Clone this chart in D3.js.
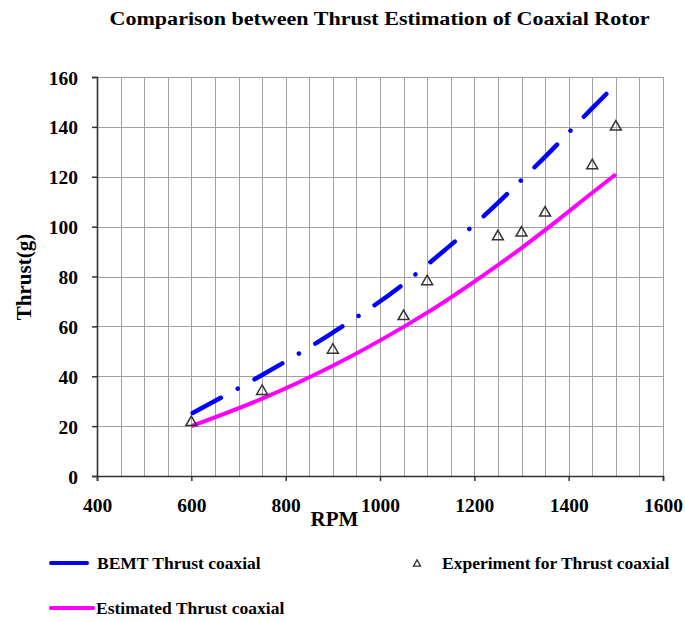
<!DOCTYPE html>
<html>
<head>
<meta charset="utf-8">
<script src="https://cdn.jsdelivr.net/npm/d3@7/dist/d3.min.js"></script>
<style>
  body { margin: 0; background: #fff; }
  svg text { font-family: "Liberation Serif", Tinos, "Times New Roman", Times, "DejaVu Serif", serif; font-weight: bold; fill: #000; }
</style>
</head>
<body>
<svg id="chart" width="685" height="621"></svg>
<script>
// data
const rpm        = [600, 750, 900, 1050, 1100, 1250, 1300, 1350, 1450, 1500];
const bemt       = [25, 40.5, 57.5, 77, 84.7, 109.5, 118.7, 128, 147.5, 157];
const estimated  = [20, 31, 44.2, 59.8, 65.5, 84.6, 91.4, 98.6, 113.6, 121];
const experiment = [21.5, 34, 50.5, 64, 78, 96, 97.5, 105.5, 124.5, 140];
const xTicks     = [400, 600, 800, 1000, 1200, 1400, 1600];
const yTicks     = [0, 20, 40, 60, 80, 100, 120, 140, 160];

const svg = d3.select('#chart');

const x = d3.scaleLinear().domain([400, 1600]).range([97, 663]);
const y = d3.scaleLinear().domain([0, 160]).range([476, 77]);

// grid
const grid = svg.append('g').attr('stroke', '#a0a0a0').attr('stroke-width', 1);
grid.selectAll('line.v')
  .data(d3.range(450, 1601, 50))
  .join('line')
  .attr('x1', d => Math.round(x(d)) + 0.5).attr('x2', d => Math.round(x(d)) + 0.5)
  .attr('y1', y(0)).attr('y2', y(160));
grid.selectAll('line.h')
  .data(yTicks.slice(1))
  .join('line')
  .attr('y1', d => Math.round(y(d)) + 0.5).attr('y2', d => Math.round(y(d)) + 0.5)
  .attr('x1', x(400)).attr('x2', x(1600));

// axes
const xAxis = svg.append('g')
  .attr('transform', `translate(0,${y(0)})`)
  .call(d3.axisBottom(x).tickValues(xTicks).tickSize(5).tickPadding(17).tickFormat(d3.format('d')));
const yAxis = svg.append('g')
  .attr('transform', `translate(${x(400)},0)`)
  .call(d3.axisLeft(y).tickValues(yTicks).tickSize(5).tickPadding(14));
[xAxis, yAxis].forEach(a => {
  a.attr('font-family', null).attr('font-size', null);
  a.selectAll('path.domain').attr('stroke', '#333').attr('stroke-width', 1.6);
  a.selectAll('line').attr('stroke', '#333').attr('stroke-width', 1.5);
  a.selectAll('text').style('font-size', '19.5px');
});
yAxis.selectAll('text').attr('dy', '0.36em');

// lines
const rows = rpm.map((r, i) => ({rpm: r, bemt: bemt[i], est: estimated[i], exp: experiment[i]}));

const bemtLine = d3.line().x(d => x(d.rpm)).y(d => y(d.bemt)).curve(d3.curveMonotoneX);
const estLine  = d3.line().x(d => x(d.rpm)).y(d => y(d.est)).curve(d3.curveMonotoneX);

svg.append('path')
  .datum(rows)
  .attr('d', estLine)
  .attr('fill', 'none')
  .attr('stroke', '#ff00ff')
  .attr('stroke-width', 4);

svg.append('path')
  .datum(rows)
  .attr('d', bemtLine)
  .attr('fill', 'none')
  .attr('stroke', '#0000ff')
  .attr('stroke-width', 4.5)
  .attr('stroke-linecap', 'round')
  .attr('stroke-dasharray', '32,19.25,0.01,19.25')
  .attr('stroke-dashoffset', -1.5);

// experiment markers
const tri = d3.symbol().type(d3.symbolTriangle).size(52);
svg.append('g')
  .selectAll('path')
  .data(rows)
  .join('path')
  .attr('d', tri)
  .attr('transform', d => `translate(${x(d.rpm)},${y(d.exp)})`)
  .attr('fill', 'none')
  .attr('stroke', '#333')
  .attr('stroke-width', 1.5);

// title and axis labels
svg.append('text')
  .attr('x', 379.5).attr('y', 25)
  .attr('text-anchor', 'middle')
  .style('font-size', '18px')
  .attr('textLength', 540)
  .attr('lengthAdjust', 'spacingAndGlyphs')
  .text('Comparison between Thrust Estimation of Coaxial Rotor');

svg.append('text')
  .attr('transform', 'translate(31,277) rotate(-90)')
  .attr('text-anchor', 'middle')
  .style('font-size', '21px')
  .text('Thrust(g)');

svg.append('text')
  .attr('x', 334.5).attr('y', 526)
  .attr('text-anchor', 'middle')
  .style('font-size', '21px')
  .text('RPM');

// legend
const legend = [
  {label: 'BEMT Thrust coaxial', color: '#0000ff', x: 51, y: 563, len: 36, tx: 97},
  {label: 'Estimated Thrust coaxial', color: '#ff00ff', x: 51, y: 608, len: 42, tx: 96},
];
legend.forEach(l => {
  svg.append('line')
    .attr('x1', l.x).attr('x2', l.x + l.len)
    .attr('y1', l.y).attr('y2', l.y)
    .attr('stroke', l.color).attr('stroke-width', 4).attr('stroke-linecap', 'round');
  svg.append('text')
    .attr('x', l.tx).attr('y', l.y + 5.5)
    .style('font-size', '17.5px')
    .text(l.label);
});
svg.append('path')
  .attr('d', d3.symbol().type(d3.symbolTriangle).size(22))
  .attr('transform', 'translate(417,564)')
  .attr('fill', 'none').attr('stroke', '#333').attr('stroke-width', 1.3);
svg.append('text')
  .attr('x', 442).attr('y', 568.5)
  .style('font-size', '17.5px')
  .text('Experiment for Thrust coaxial');
</script>
</body>
</html>
